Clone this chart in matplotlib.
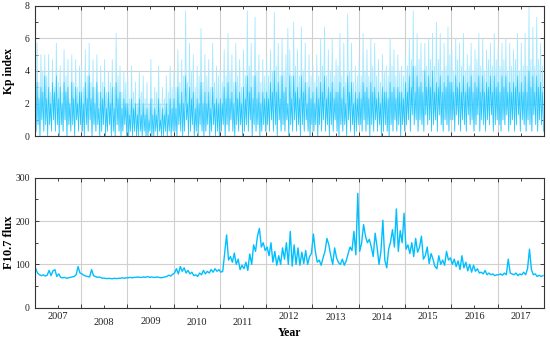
import numpy as np
import matplotlib
matplotlib.use("Agg")
from matplotlib import pyplot as plt
from matplotlib.ticker import MultipleLocator

# half-monthly readings (24 per year, 2007 .. 2017)
years = [2007, 2008, 2009, 2010, 2011, 2012, 2013, 2014, 2015, 2016, 2017]

kp_peak = [
    4.3, 5.7, 3.3, 5.0, 4.0, 5.0, 3.7, 5.0, 2.7, 4.7, 3.0, 5.7, 3.3, 4.3, 2.7, 5.3, 3.7, 4.7, 2.3, 5.0, 3.3, 4.7, 3.0, 4.3,
    4.3, 3.0, 5.3, 3.7, 5.7, 3.3, 4.7, 3.0, 5.0, 2.7, 4.3, 3.3, 4.7, 2.7, 4.0, 3.3, 4.7, 3.0, 6.3, 3.7, 4.3, 2.7, 4.0, 3.3,
    3.7, 2.3, 4.3, 2.7, 3.3, 2.0, 4.0, 2.7, 3.7, 2.3, 3.3, 2.0, 4.7, 2.3, 3.0, 2.7, 4.3, 2.0, 3.0, 2.3, 3.7, 2.7, 4.3, 3.0,
    4.0, 3.0, 5.3, 3.3, 4.7, 3.7, 7.7, 3.3, 5.7, 4.0, 5.0, 3.0, 4.3, 3.7, 6.6, 3.3, 5.0, 3.7, 4.7, 3.0, 5.7, 3.3, 4.3, 3.7,
    4.0, 3.3, 5.3, 3.7, 6.3, 4.0, 5.0, 3.3, 5.7, 3.7, 4.7, 3.0, 5.3, 3.7, 7.7, 4.3, 5.7, 3.7, 7.3, 4.0, 5.0, 3.3, 4.7, 3.7,
    4.7, 3.7, 5.3, 4.0, 7.6, 4.3, 5.7, 3.7, 6.0, 4.0, 5.0, 6.6, 5.3, 3.7, 7.0, 4.3, 5.3, 3.7, 6.7, 4.0, 5.7, 3.3, 5.0, 3.7,
    4.3, 3.3, 5.0, 3.7, 6.0, 4.3, 6.7, 3.7, 5.3, 4.0, 6.0, 3.7, 4.7, 4.3, 6.3, 3.7, 5.7, 3.3, 7.5, 4.0, 5.7, 3.3, 4.3, 3.7,
    4.7, 3.7, 6.3, 4.0, 5.3, 3.7, 6.0, 4.3, 5.7, 3.7, 4.7, 3.3, 5.0, 4.0, 4.3, 3.7, 6.0, 4.3, 5.3, 3.7, 5.0, 4.0, 4.3, 3.7,
    5.0, 4.3, 6.0, 4.7, 7.7, 4.3, 6.3, 4.7, 5.7, 4.0, 5.7, 4.3, 6.0, 4.7, 6.3, 4.3, 7.0, 4.7, 6.3, 4.0, 5.7, 4.3, 6.7, 5.0,
    5.3, 4.0, 6.0, 4.7, 5.7, 4.3, 6.3, 4.0, 5.0, 4.3, 5.7, 4.0, 5.3, 4.7, 6.3, 4.3, 6.0, 4.0, 5.3, 4.7, 5.7, 4.3, 6.3, 4.7,
    5.3, 4.3, 5.7, 4.7, 6.0, 4.0, 5.7, 4.3, 5.3, 4.7, 6.3, 4.0, 5.7, 4.3, 6.3, 4.3, 7.9, 4.7, 6.7, 4.3, 7.3, 4.7, 5.7, 4.3,
]

kp_typ = [
    2.7, 3.3, 2.3, 3.0, 2.7, 3.7, 2.3, 3.0, 2.0, 3.3, 2.7, 3.7, 2.3, 3.0, 2.0, 3.3, 2.7, 3.0, 2.0, 3.3, 2.3, 3.0, 2.0, 2.7,
    2.7, 2.0, 3.3, 2.3, 3.7, 2.3, 3.0, 2.0, 3.3, 1.7, 2.7, 2.3, 3.0, 1.7, 2.7, 2.0, 3.0, 1.7, 3.3, 2.3, 2.7, 1.7, 2.3, 2.0,
    2.0, 1.3, 2.3, 1.7, 2.0, 1.3, 2.3, 1.3, 2.0, 1.3, 1.7, 1.0, 2.3, 1.3, 1.7, 1.3, 2.3, 1.0, 1.7, 1.3, 2.0, 1.3, 2.3, 1.7,
    2.3, 1.7, 3.0, 2.0, 2.7, 2.0, 3.7, 2.0, 3.0, 2.3, 2.7, 1.7, 2.3, 2.0, 3.3, 2.0, 2.7, 2.0, 2.7, 1.7, 3.0, 2.0, 2.3, 2.0,
    2.3, 2.0, 3.0, 2.3, 3.3, 2.3, 2.7, 2.0, 3.3, 2.3, 2.7, 2.0, 3.0, 2.3, 3.7, 2.7, 3.0, 2.3, 3.7, 2.3, 2.7, 2.0, 2.7, 2.3,
    2.7, 2.3, 3.3, 2.7, 4.0, 2.7, 3.3, 2.3, 3.7, 2.7, 3.0, 2.0, 3.7, 2.3, 3.7, 2.7, 3.0, 2.3, 3.7, 2.7, 3.3, 2.0, 3.0, 2.3,
    2.7, 2.0, 3.0, 2.3, 3.3, 2.7, 3.7, 2.3, 3.0, 2.7, 3.3, 2.3, 2.7, 2.7, 3.3, 2.3, 3.0, 2.0, 3.7, 2.7, 3.3, 2.0, 2.7, 2.3,
    2.7, 2.3, 3.3, 2.7, 3.0, 2.3, 3.3, 2.7, 3.0, 2.3, 2.7, 2.0, 3.0, 2.7, 2.7, 2.3, 3.3, 2.7, 3.0, 2.3, 3.0, 2.7, 2.7, 2.3,
    3.3, 2.7, 3.7, 3.0, 4.3, 2.7, 3.7, 3.0, 3.3, 2.7, 4.0, 3.0, 3.7, 3.0, 4.0, 2.7, 3.3, 3.0, 3.7, 2.7, 3.3, 3.0, 3.7, 3.3,
    3.3, 2.7, 3.7, 3.0, 3.3, 2.7, 3.7, 2.7, 3.3, 3.0, 3.7, 2.7, 3.3, 3.0, 3.7, 2.7, 3.7, 2.7, 3.3, 3.0, 3.7, 2.7, 3.7, 3.0,
    3.3, 2.7, 3.7, 3.0, 3.7, 2.7, 3.3, 2.7, 3.3, 3.0, 3.7, 2.7, 3.3, 2.7, 3.7, 2.7, 4.0, 3.0, 3.7, 2.7, 3.7, 3.0, 3.3, 2.7,
]

kp_low = [
    0.3, 0.7, 0.0, 1.0, 0.3, 0.7, 0.0, 0.7, 0.3, 1.0, 0.3, 0.7, 0.0, 0.7, 0.3, 1.0, 0.0, 0.7, 0.3, 0.7, 0.0, 1.0, 0.3, 0.7,
    0.3, 0.0, 0.7, 0.3, 1.0, 0.0, 0.7, 0.3, 0.7, 0.0, 0.3, 0.7, 0.0, 0.3, 0.7, 0.0, 0.3, 0.0, 0.7, 0.3, 0.0, 0.3, 0.7, 0.0,
    0.0, 0.3, 0.0, 0.3, 0.0, 0.0, 0.3, 0.0, 0.3, 0.0, 0.0, 0.3, 0.0, 0.0, 0.3, 0.0, 0.3, 0.0, 0.0, 0.3, 0.0, 0.3, 0.0, 0.3,
    0.3, 0.0, 0.7, 0.3, 0.0, 0.3, 1.0, 0.0, 0.3, 0.7, 0.0, 0.3, 0.0, 0.7, 0.3, 0.0, 0.3, 0.7, 0.0, 0.3, 0.7, 0.0, 0.3, 0.0,
    0.3, 0.7, 0.0, 0.7, 0.3, 1.0, 0.3, 0.0, 0.7, 0.3, 0.7, 0.0, 0.3, 0.7, 0.3, 1.0, 0.0, 0.7, 0.3, 0.7, 0.0, 0.3, 0.7, 0.3,
    0.7, 0.3, 1.0, 0.3, 0.7, 0.0, 1.0, 0.3, 0.7, 0.3, 1.0, 0.0, 0.7, 0.3, 1.0, 0.3, 0.7, 0.0, 0.7, 0.3, 1.0, 0.3, 0.0, 0.7,
    0.3, 0.7, 0.0, 0.7, 0.3, 1.0, 0.3, 0.7, 0.0, 0.7, 0.3, 1.0, 0.3, 0.0, 0.7, 0.3, 0.7, 0.0, 1.0, 0.3, 0.7, 0.0, 0.3, 0.7,
    0.7, 0.3, 1.0, 0.3, 0.7, 0.0, 0.7, 0.3, 1.0, 0.3, 0.7, 0.0, 0.3, 0.7, 0.3, 0.0, 0.7, 0.3, 1.0, 0.3, 0.7, 0.0, 0.7, 0.3,
    0.7, 1.0, 0.3, 1.3, 0.7, 1.0, 0.3, 1.0, 0.7, 0.3, 1.3, 0.7, 1.0, 0.3, 0.7, 1.0, 0.3, 1.3, 0.7, 0.3, 1.0, 0.7, 0.3, 1.0,
    1.0, 0.3, 1.3, 0.7, 0.3, 1.0, 0.7, 0.3, 1.3, 0.7, 1.0, 0.3, 0.7, 1.3, 0.3, 1.0, 0.7, 0.3, 1.0, 0.7, 1.3, 0.3, 0.7, 1.0,
    0.7, 0.3, 1.0, 0.7, 1.3, 0.3, 0.7, 1.0, 0.3, 0.7, 1.3, 0.3, 1.0, 0.7, 0.3, 1.0, 0.7, 0.3, 1.3, 0.7, 0.3, 1.0, 0.7, 0.3,
]

f107 = [
    91, 80, 76, 74, 76, 73, 75, 86, 74, 85, 88, 72, 78, 70, 69, 70, 68, 69, 70, 71, 72, 76, 95, 80,
    78, 75, 73, 72, 71, 88, 74, 72, 70, 71, 69, 68, 68, 67, 68, 67, 67, 68, 67, 68, 68, 69, 68, 69,
    69, 70, 69, 70, 70, 71, 70, 70, 71, 70, 72, 70, 71, 70, 70, 71, 70, 69, 70, 71, 72, 75, 73, 77,
    80, 90, 78, 95, 84, 92, 80, 86, 78, 82, 74, 76, 72, 80, 76, 86, 78, 84, 80, 88, 82, 90, 84, 88,
    82, 84, 125, 168, 110, 118, 105, 126, 100, 112, 88, 98, 90, 105, 86, 124, 100, 145, 130, 165, 183, 140, 150, 132,
    140, 120, 150, 105, 130, 98, 120, 100, 138, 112, 150, 100, 176, 96, 145, 100, 138, 98, 128, 102, 132, 100, 118, 126,
    170, 130, 105, 110, 98, 115, 130, 160, 145, 120, 100, 138, 115, 104, 100, 112, 98, 108, 125, 140, 132, 176, 122, 264,
    130, 150, 192, 165, 150, 158, 140, 118, 172, 140, 100, 130, 202, 110, 92, 135, 152, 180, 140, 228, 130, 178, 150, 218,
    135, 145, 125, 150, 118, 160, 128, 140, 165, 112, 120, 140, 102, 125, 112, 95, 90, 120, 100, 110, 98, 130, 110, 115,
    100, 112, 95, 108, 88, 120, 92, 105, 85, 100, 82, 98, 84, 90, 80, 82, 78, 86, 76, 80, 76, 78, 74, 76,
    76, 78, 75, 80, 76, 112, 80, 78, 76, 80, 74, 78, 76, 82, 76, 90, 135, 88, 76, 78, 72, 75, 72, 74,
]

plt.rcParams['font.family'] = ['Liberation Serif', 'DejaVu Serif']
color = '#00BFFF'

n = len(f107)
t = years[0] + (np.arange(n) + 0.5) / 24.0

# zigzag peak -> low, typical -> low to get the dense spiky look
tz = np.empty(2 * n)
tz[0::2] = t - 0.25 / 24
tz[1::2] = t + 0.25 / 24
hi = np.empty(2 * n)
hi[0::2] = kp_peak
hi[1::2] = kp_low
mid = np.empty(2 * n)
mid[0::2] = kp_typ
mid[1::2] = kp_low

fig = plt.figure(figsize=(5.5, 3.42), dpi=100)
ax1 = fig.add_axes([0.063, 0.602, 0.926, 0.381])
ax2 = fig.add_axes([0.063, 0.1003, 0.926, 0.380])

ax1.plot(tz, hi, color='#A6E8FF', lw=0.6)
ax1.plot(tz, mid, color='#22C6FF', lw=0.5)
ax2.plot(t, f107, color=color, lw=1.0)

for ax in (ax1, ax2):
    ax.set_xlim(2007, 2018)
    ax.set_xticks(range(2008, 2018))
    ax.xaxis.set_minor_locator(MultipleLocator(0.5))
    ax.tick_params(which='both', direction='in', top=True, right=True,
                   labelsize=7, length=3, width=0.6, colors='#222222')
    ax.tick_params(which='minor', length=2)
    ax.set_xticklabels([])
    ax.grid(True, which='major', color='#d0d0d0', lw=0.8)
    ax.set_axisbelow(True)
    for s in ax.spines.values():
        s.set_linewidth(0.8)
        s.set_color('#333333')

ax1.set_ylim(0, 8)
ax1.set_yticks([0, 2, 4, 6, 8])
ax1.yaxis.set_minor_locator(MultipleLocator(1))
ax1.set_ylabel('Kp index', fontsize=8.5, fontweight='bold', va='center')
ax1.yaxis.set_label_coords(-0.051, 0.5)

ax2.set_ylim(0, 300)
ax2.set_yticks([0, 100, 200, 300])
ax2.yaxis.set_minor_locator(MultipleLocator(50))
ax2.set_ylabel('F10.7 flux', fontsize=9, fontweight='bold', va='center')
ax2.yaxis.set_label_coords(-0.05, 0.5)

# staggered year labels under the lower panel
drop = [9, 15, 14, 14.5, 14.5, 9, 10, 10, 9, 9, 9]
for yr, d in zip(years, drop):
    ax2.text(yr + 0.5, -d / 130.0, str(yr), transform=ax2.get_xaxis_transform(),
             ha='center', va='center', fontsize=7.5, color='#222222')
ax2.text(0.5, -25.5 / 130.0, 'Year', transform=ax2.transAxes, ha='center', va='center',
         fontsize=8.5, fontweight='bold')

fig.savefig('out.png', dpi=100)
